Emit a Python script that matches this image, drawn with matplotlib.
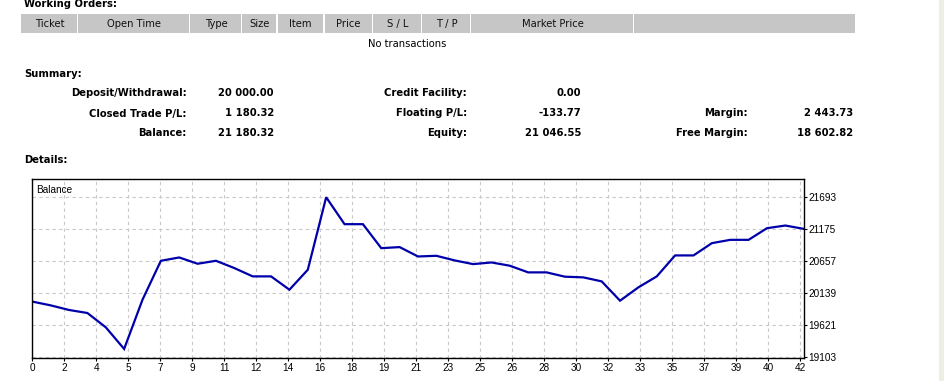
import numpy as np
import matplotlib
matplotlib.use('Agg')
import matplotlib.pyplot as plt
from matplotlib.patches import Rectangle

W, H = 945, 381

# 表头列
header_cols = ['Ticket', 'Open Time', 'Type', 'Size', 'Item', 'Price', 'S / L', 'T / P', 'Market Price', '']
header_edges = [21, 78, 190, 242, 277, 324, 373, 422, 471, 634, 856]

# 汇总
summary_labels_1 = ['Deposit/Withdrawal:', 'Closed Trade P/L:', 'Balance:']
summary_values_1 = ['20 000.00', '1 180.32', '21 180.32']
summary_labels_2 = ['Credit Facility:', 'Floating P/L:', 'Equity:']
summary_values_2 = ['0.00', '-133.77', '21 046.55']
summary_labels_3 = ['', 'Margin:', 'Free Margin:']
summary_values_3 = ['', '2 443.73', '18 602.82']

# 余额曲线（按成交序号）
trade_idx = list(range(43))
balance = [20000, 19939, 19864, 19815, 19583, 19232, 20031, 20662, 20716, 20614,
           20662, 20544, 20409, 20409, 20193, 20517, 21693, 21256, 21256, 20867,
           20884, 20732, 20743, 20668, 20608, 20635, 20582, 20474, 20474, 20404,
           20393, 20328, 20015, 20231, 20409, 20749, 20749, 20948, 21002, 21002,
           21191, 21234, 21180]
y_ticks = [19103, 19621, 20139, 20657, 21175, 21693]
x_tick_labels = ['0', '2', '4', '5', '7', '9', '11', '12', '14', '16', '18', '19', '21',
                 '23', '25', '26', '28', '30', '32', '33', '35', '37', '39', '40', '42']

FONT = 'DejaVu Sans'
CHART_FONT = 'Liberation Sans'
FS = 7.2
CFS = 7.2


def fx(x):
    return x / W


def fy(y):
    return 1 - y / H


fig = plt.figure(figsize=(W / 100, H / 100), dpi=100)
fig.patch.set_facecolor('white')

# Working Orders
fig.text(fx(24), fy(4), 'Working Orders:', fontsize=FS, fontweight='bold',
         family=FONT, va='center', ha='left', color='#000000')
for i, name in enumerate(header_cols):
    x0, x1 = header_edges[i], header_edges[i + 1]
    fig.patches.append(Rectangle((fx(x0 + 0.5), fy(33)), fx(x1 - x0 - 1.5), (33 - 14) / H,
                                 transform=fig.transFigure, facecolor='#c6c6c6',
                                 edgecolor='none'))
    if name:
        fig.text(fx((x0 + x1) / 2), fy(24), name, fontsize=FS, family=FONT,
                 ha='center', va='center', color='#111111')
fig.text(fx(407), fy(44), 'No transactions', fontsize=FS, family=FONT,
         ha='center', va='center', color='#000000')

# Summary
fig.text(fx(24), fy(74), 'Summary:', fontsize=FS, fontweight='bold', family=FONT,
         va='center', ha='left')
rows_y = [93.5, 113.5, 133]
cols = [(summary_labels_1, 187, summary_values_1, 274),
        (summary_labels_2, 467, summary_values_2, 581),
        (summary_labels_3, 748, summary_values_3, 853)]
for labels, lx, values, vx in cols:
    for y, lab, val in zip(rows_y, labels, values):
        if lab:
            fig.text(fx(lx), fy(y), lab, fontsize=FS, fontweight='bold', family=FONT,
                     ha='right', va='center')
            fig.text(fx(vx), fy(y), val, fontsize=FS, fontweight='bold', family=FONT,
                     ha='right', va='center')
fig.text(fx(24), fy(160), 'Details:', fontsize=FS, fontweight='bold', family=FONT,
         va='center', ha='left')

# 右侧滚动条
fig.patches.append(Rectangle((fx(939), 0), fx(5), 1, transform=fig.transFigure,
                             facecolor='#eeeee4', edgecolor='none'))

# 图表
left, top, right, bottom = 32.3, 179.3, 803.7, 358
ax = fig.add_axes([fx(left), fy(bottom), fx(right - left), (bottom - top) / H])
ax.plot(trade_idx, balance, color='#0000aa', lw=1.6, solid_joinstyle='miter')
ax.set_xlim(0, 42)
ax.set_ylim(19085, 21984)

step = 42 * 32 / (right - left)
ax.set_xticks([k * step for k in range(len(x_tick_labels))])
ax.set_xticklabels(x_tick_labels)
ax.set_yticks(y_ticks)
ax.yaxis.tick_right()
ax.tick_params(axis='both', length=2, width=0.8, labelsize=CFS, pad=1.5, colors='#000000')
for lab in ax.get_xticklabels() + ax.get_yticklabels():
    lab.set_family(CHART_FONT)
ax.grid(True, color='#c8c8c8', linestyle=(0, (3, 3)), lw=0.8)
for s in ax.spines.values():
    s.set_linewidth(1.0)
    s.set_color('#000000')
ax.text(0.005, 0.97, 'Balance', transform=ax.transAxes, fontsize=CFS, family=CHART_FONT,
        ha='left', va='top')

fig.savefig('out.png', dpi=100)
